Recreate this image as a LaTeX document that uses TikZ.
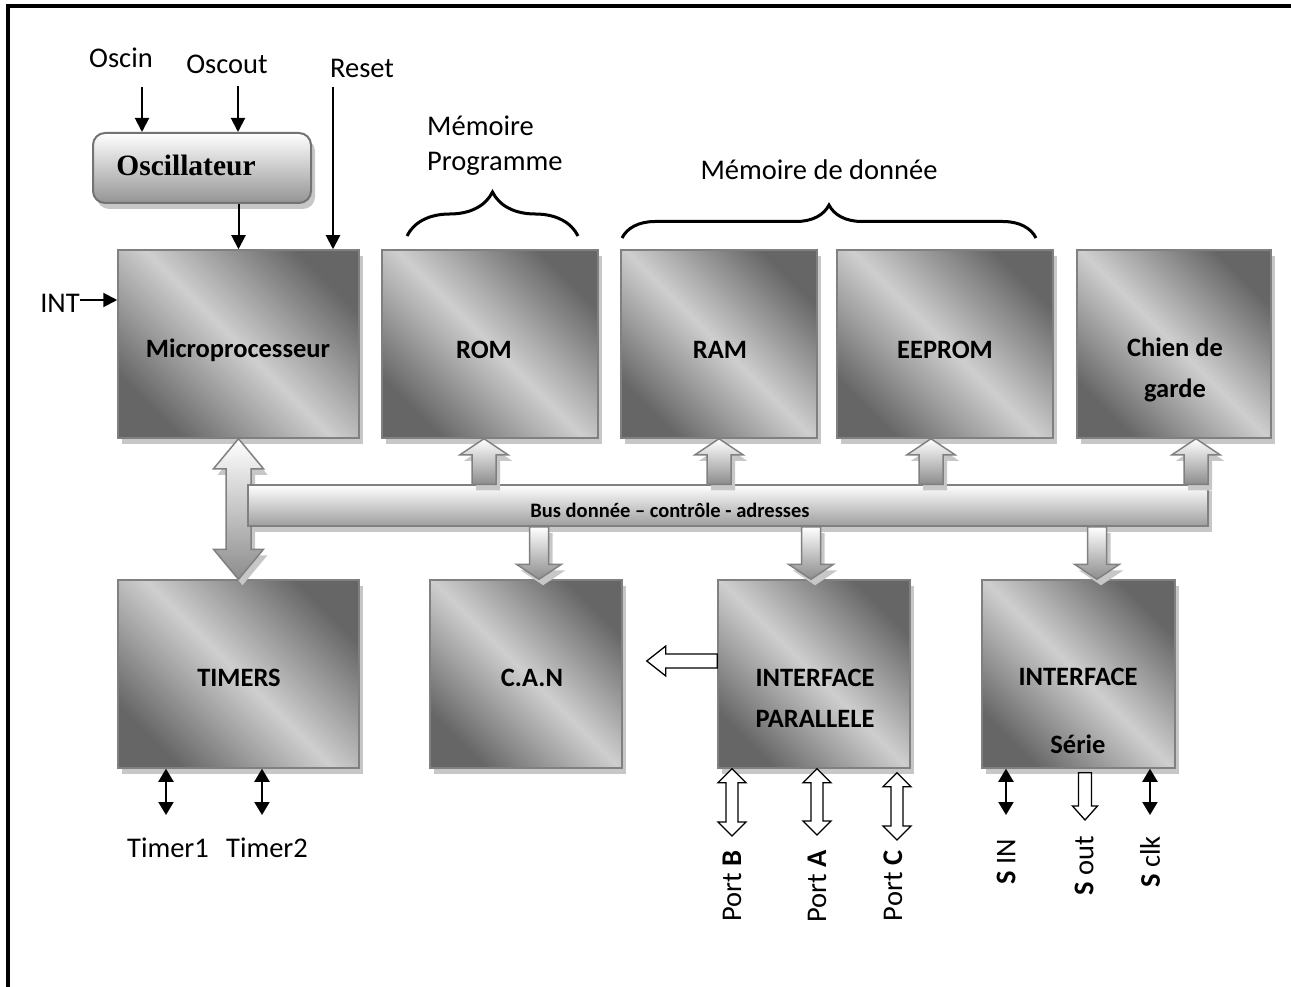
\documentclass[tikz,border=0pt]{standalone}
\usepackage{fontspec}
\setmainfont{Carlito}
\newfontfamily\oscfont{Liberation Serif}
\usetikzlibrary{arrows.meta,calc,shadows,decorations.pathreplacing}

% vertical block arrows: #2 base point, #3 tip point, #4 half shaft, #5 half head, #6 head length
\newcommand{\vsingle}[6][]{%
  \path[#1] let \p1=#2, \p2=#3, \n1={sign(\y2-\y1)*#6} in
    ({\x2-#4},\y1) -- ({\x2-#4},{\y2-(\n1)}) -- ({\x2-#5},{\y2-(\n1)}) -- (\x2,\y2)
    -- ({\x2+#5},{\y2-(\n1)}) -- ({\x2+#4},{\y2-(\n1)}) -- ({\x2+#4},\y1) -- cycle;}
\newcommand{\vdouble}[6][]{%
  \path[#1] let \p1=#2, \p2=#3, \n1={sign(\y2-\y1)*#6} in
    (\x2,\y1) -- ({\x2+#5},{\y1+(\n1)}) -- ({\x2+#4},{\y1+(\n1)}) -- ({\x2+#4},{\y2-(\n1)})
    -- ({\x2+#5},{\y2-(\n1)}) -- (\x2,\y2) -- ({\x2-#5},{\y2-(\n1)}) -- ({\x2-#4},{\y2-(\n1)})
    -- ({\x2-#4},{\y1+(\n1)}) -- ({\x2-#5},{\y1+(\n1)}) -- cycle;}

\tikzset{
  shad/.style={drop shadow={shadow xshift=4pt, shadow yshift=-6pt, fill=black!22, opacity=1}},
  blk/.style={shad, draw=black!50, line width=1.5pt, minimum height=188pt,
    top color=black!60, bottom color=black!60, middle color=black!19, shading angle=-45},
  oscbox/.style={shad, draw=black!55, line width=2pt, rounded corners=12pt,
    minimum width=218pt, minimum height=70pt, top color=white, bottom color=black!42},
  busbox/.style={shad, draw=black!50, line width=1.5pt, minimum width=960pt, minimum height=41pt,
    top color=white, bottom color=black!38},
  fatarrow/.style={shad, draw=black!50, line width=1.5pt, top color=white, bottom color=black!45},
  hollow/.style={draw=black, line width=1.3pt, fill=white},
  boxtxt/.style={font=\fontsize{26.5pt}{41pt}\selectfont\bfseries, align=center, inner sep=0pt},
  lbl/.style={font=\fontsize{28.5pt}{35pt}\selectfont, inner sep=0pt},
  sig/.style={line width=2pt, -{Triangle[length=14pt,width=14pt]}},
  bisig/.style={line width=2pt, {Triangle[length=13pt,width=15pt]}-{Triangle[length=13pt,width=15pt]}},
  brc/.style={line width=3pt, decorate, decoration={brace, amplitude=#1}}
}

\begin{document}
\begin{tikzpicture}[x=1pt,y=-1pt]
\useasboundingbox (0,0) rectangle (1291,987);
\draw[line width=3.5pt] (8,987) -- (8,6) -- (1291,6);

% blocks
\node[oscbox] (osc) at (202,168) {};
\node[blk, minimum width=241pt] (mp) at (238.5,344) {};
\node[blk, minimum width=216pt] (rom) at (490,344) {};
\node[blk, minimum width=196pt] (ram) at (719,344) {};
\node[blk, minimum width=216pt] (eep) at (945,344) {};
\node[blk, minimum width=194pt] (chien) at (1174,344) {};
\node[blk, minimum width=241pt] (tm) at (238.5,674) {};
\node[blk, minimum width=192pt] (can) at (526,674) {};
\node[blk, minimum width=192pt] (ip) at (814,674) {};
\node[blk, minimum width=193pt] (ser) at (1078.5,674) {};

% bus
\vdouble[fatarrow]{(mp.south)}{(tm.north)}{12.5}{25}{30}
\node[busbox] (bus) at (728,505.5) {};
\vsingle[fatarrow]{(bus.north)}{([xshift=-6pt]rom.south)}{12}{24}{16}
\vsingle[fatarrow]{(bus.north)}{(ram.south)}{12}{24}{16}
\vsingle[fatarrow]{(bus.north)}{([xshift=-14pt]eep.south)}{12}{24}{16}
\vsingle[fatarrow]{(bus.north)}{([xshift=22pt]chien.south)}{12}{24}{16}
\vsingle[fatarrow]{(bus.south)}{([xshift=13pt]can.north)}{9.5}{22.5}{15}
\vsingle[fatarrow]{(bus.south)}{([xshift=-3pt]ip.north)}{9.5}{22.5}{15}
\vsingle[fatarrow]{(bus.south)}{([xshift=18.5pt]ser.north)}{9.5}{22.5}{15}

% texts
\node[font=\fontsize{29.5pt}{35pt}\selectfont\oscfont\bfseries, inner sep=0pt] (osct) at (186,165) {Oscillateur};
\node[boxtxt] (mpt) at (238,350) {Microprocesseur};
\node[boxtxt] (romt) at (484,350) {ROM};
\node[boxtxt] (ramt) at (720,350) {RAM};
\node[boxtxt] (eept) at (945,350) {EEPROM};
\node[boxtxt] (chient) at (1175,369.5) {Chien de\\garde};
\node[boxtxt] (tmt) at (239,678) {TIMERS};
\node[boxtxt] (cant) at (532,678) {C.A.N};
\node[boxtxt] (ipt) at (815,698) {INTERFACE\\PARALLELE};
\node[boxtxt] (sert) at (1078,711) {INTERFACE\\[27pt]Série};
\node[font=\fontsize{20.5pt}{24pt}\selectfont\bfseries, inner sep=0pt] (bust) at (670,510) {Bus donnée – contrôle - adresses};

% inputs
\node[lbl] (oscin) at (121,58) {Oscin};
\node[lbl] (oscout) at (227,64) {Oscout};
\node[lbl] (reset) at (362,68) {Reset};
\node[lbl] (int) at (60,303) {INT};
\coordinate (oscinA) at (142,87);
\coordinate (oscoutA) at (238,86);
\coordinate (resetA) at (333,87);
\draw[sig] (oscinA) -- (oscinA |- osc.north);
\draw[sig] (oscoutA) -- (oscoutA |- osc.north);
\draw[sig] (resetA) -- (resetA |- mp.north);
\draw[sig] (osc.south -| mp.north) -- (mp.north);
\draw[sig] ([yshift=3pt]int.east) -- ([yshift=3pt]int.east -| mp.west);

% memories
\node[lbl, align=left, anchor=west] (memp) at (427,145.5) {Mémoire\\Programme};
\node[lbl] (memd) at (819,170) {Mémoire de donnée};
\draw[brc=44pt] (407,236) -- (578,236);
\draw[brc=33pt] (622,238) -- (1036,238);

% timers
\coordinate (t1) at (166,815);
\coordinate (t2) at (262,815);
\draw[bisig] (t1 |- tm.south) -- (t1);
\draw[bisig] (t2 |- tm.south) -- (t2);
\node[lbl] (t1t) at (168,848) {Timer1};
\node[lbl] (t2t) at (267,848) {Timer2};

% parallel ports
\path[hollow] let \p1=([yshift=13pt]ip.west), \p2=([xshift=24pt]can.east) in
  (\x1,{\y1+7}) -- ({\x2+19},{\y1+7}) -- ({\x2+19},{\y1+15}) -- (\x2,\y1)
  -- ({\x2+19},{\y1-15}) -- ({\x2+19},{\y1-7}) -- (\x1,{\y1-7}) -- cycle;
\coordinate (pb) at (732,836);
\coordinate (pa) at (817,835);
\coordinate (pc) at (897,840);
\vdouble[hollow]{(ip.south)}{(pb)}{6}{14}{14}
\vdouble[hollow]{(ip.south)}{(pa)}{6}{14}{14}
\vdouble[hollow]{([yshift=-4pt]ip.south)}{(pc)}{6}{14}{14}
\node[lbl, rotate=90] (pbt) at (732,886) {Port \textbf{B}};
\node[lbl, rotate=90] (pat) at (817,886) {Port \textbf{A}};
\node[lbl, rotate=90] (pct) at (893,886) {Port \textbf{C}};

% serial lines
\coordinate (sin) at (1006,815);
\coordinate (sout) at (1085,820);
\coordinate (sclk) at (1150,815);
\draw[bisig] (sin |- ser.south) -- (sin);
\vsingle[hollow]{([yshift=-4pt]ser.south)}{(sout)}{6.5}{12.5}{14}
\draw[bisig] (sclk |- ser.south) -- (sclk);
\node[lbl, rotate=90] (sint) at (1006,862) {\textbf{S} IN};
\node[lbl, rotate=90] (soutt) at (1084,866) {\textbf{S} out};
\node[lbl, rotate=90] (sclkt) at (1150,862) {\textbf{S} clk};
\end{tikzpicture}
\end{document}
